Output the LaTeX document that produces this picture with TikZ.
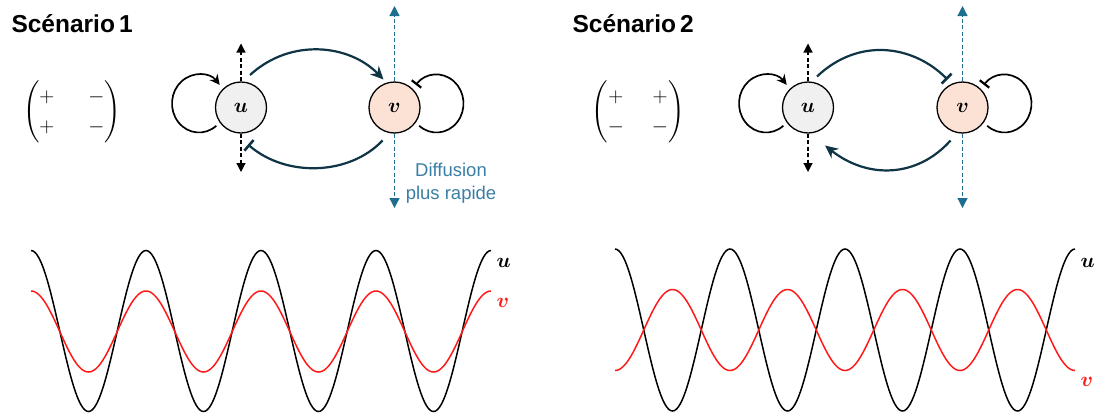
\documentclass[tikz,border=0pt]{standalone}
\usepackage{amsmath}
\usepackage{bm}
\usepackage{fontspec}
\setsansfont{Liberation Sans}
\usetikzlibrary{arrows.meta}
\definecolor{navy}{HTML}{0E3445}
\definecolor{dblue}{HTML}{1F6E8F}
\definecolor{tblue}{HTML}{3A7FA6}
\definecolor{ufill}{HTML}{F0F0F0}
\definecolor{vfill}{HTML}{FBE2D5}
\definecolor{myred}{HTML}{FF1A1A}
\tikzset{
  species/.style={circle, draw=black, line width=1.3pt, minimum size=51pt, inner sep=0pt, font=\fontsize{22}{26}\selectfont},
  title/.style={anchor=west, font=\sffamily\bfseries\fontsize{24.5}{28}\selectfont},
  mat/.style={font=\fontsize{20}{30}\selectfont},
  arc/.style={draw=navy, line width=2.2pt},
  actarrow/.style={-{Stealth[length=13pt,width=12pt]}},
  inharrow/.style={-{Bar[width=14pt,line width=2.6pt]}},
  selfloop/.style={draw=black, line width=1.7pt},
  selfact/.style={-{Stealth[length=10pt,width=10pt]}},
  selfinh/.style={-{Bar[width=12pt,line width=2.2pt]}},
  diffk/.style={draw=black, dashed, line width=1.2pt, dash pattern=on 4pt off 2.5pt, -{Triangle[length=9pt,width=9pt]}},
  diffb/.style={draw=dblue, dashed, line width=1.3pt, dash pattern=on 4pt off 2.5pt, -{Triangle[length=10pt,width=10pt]}},
  ucurve/.style={draw=black, line width=1.5pt},
  vcurve/.style={draw=myred, line width=1.5pt},
  clabel/.style={anchor=west, font=\fontsize{22}{26}\selectfont},
  lloop/.style={selfloop, selfact, to path={([shift={(-42,-4)}]\tikztostart.center) ++(50:27 and 29) arc[start angle=50, end angle=320, x radius=27, y radius=29]}},
  rloop/.style={selfloop, selfinh, to path={([shift={(42,-4)}]\tikztostart.center) ++(130:27 and 29) arc[start angle=130, end angle=-140, x radius=27, y radius=29]}},
}
\begin{document}
\begin{tikzpicture}[x=1pt,y=-1pt]
\useasboundingbox (0,0) rectangle (1099,418);
\fill[white] (0,0) rectangle (1099,418);

% ---------- Scenario 1 ----------
\node[title] (t1) at (8,24) {Scénario\,1};
\node[mat] (m1) at (72,111.5) {\setlength\arraycolsep{17pt}$\begin{pmatrix}+ & -\\ + & -\end{pmatrix}$};

\node[species, fill=ufill] (u1) at (241,107.5) {$\bm{u}$};
\node[species, fill=vfill] (v1) at (394.5,107.5) {$\bm{v}$};

\coordinate (u1up) at (241,43.5);
\coordinate (u1dn) at (241,172);
\coordinate (v1up) at (394.5,6);
\coordinate (v1dn) at (394.5,208);
\draw[diffk] (u1.north) -- (u1up);
\draw[diffk] (u1.south) -- (u1dn);
\draw[diffb] (v1.north) -- (v1up);
\draw[diffb] (v1.south) -- (v1dn);

\draw[lloop] (u1) to (u1);
\draw[rloop] (v1) to (v1);

\draw[arc, actarrow] ([shift={(9,-32.5)}]u1.center) .. controls ([shift={(50,-70)}]u1.center) and ([shift={(-45,-63)}]v1.center) .. ([shift={(-11,-28)}]v1.center);
\draw[arc, inharrow] ([shift={(-12,33)}]v1.center) .. controls ([shift={(-45,68)}]v1.center) and ([shift={(45,70)}]u1.center) .. ([shift={(7,37)}]u1.center);

\node[font=\sffamily\fontsize{18.5}{22.5}\selectfont, text=tblue, align=center] (diff) at (451,183) {Diffusion\\plus rapide};

\draw[ucurve] plot[domain=0:460, samples=241, smooth] ({31+\x}, {331-80.5*cos(3.130435*\x)});
\draw[vcurve] plot[domain=0:460, samples=241, smooth] ({31+\x}, {331.5-40.5*cos(3.130435*\x)});
\node[clabel] (lu1) at (493,263) {$\bm{u}$};
\node[clabel, text=myred] (lv1) at (493,303) {$\bm{v}$};

% ---------- Scenario 2 ----------
\node[title] (t2) at (569,24) {Scénario\,2};
\node[mat] (m2) at (638,111.5) {\setlength\arraycolsep{14pt}$\begin{pmatrix}+ & +\\ - & -\end{pmatrix}$};

\node[species, fill=ufill] (u2) at (808,107.5) {$\bm{u}$};
\node[species, fill=vfill] (v2) at (962.5,107.5) {$\bm{v}$};

\coordinate (u2up) at (808,43.5);
\coordinate (u2dn) at (808,172);
\coordinate (v2up) at (962.5,6);
\coordinate (v2dn) at (962.5,208);
\draw[diffk] (u2.north) -- (u2up);
\draw[diffk] (u2.south) -- (u2dn);
\draw[diffb] (v2.north) -- (v2up);
\draw[diffb] (v2.south) -- (v2dn);

\draw[lloop] (u2) to (u2);
\draw[rloop] (v2) to (v2);

\draw[arc, inharrow] ([shift={(9,-31)}]u2.center) .. controls ([shift={(50,-70)}]u2.center) and ([shift={(-50,-63)}]v2.center) .. ([shift={(-15,-28)}]v2.center);
\draw[arc, actarrow] ([shift={(-12,33)}]v2.center) .. controls ([shift={(-45,70)}]v2.center) and ([shift={(60,72)}]u2.center) .. ([shift={(17,38)}]u2.center);

\draw[ucurve] plot[domain=0:460, samples=241, smooth] ({615+\x}, {330-81*cos(3.130435*\x)});
\draw[vcurve] plot[domain=0:460, samples=241, smooth] ({615+\x}, {330+40.5*cos(3.130435*\x)});
\node[clabel] (lu2) at (1077,263) {$\bm{u}$};
\node[clabel, text=myred] (lv2) at (1077,382) {$\bm{v}$};
\end{tikzpicture}
\end{document}
